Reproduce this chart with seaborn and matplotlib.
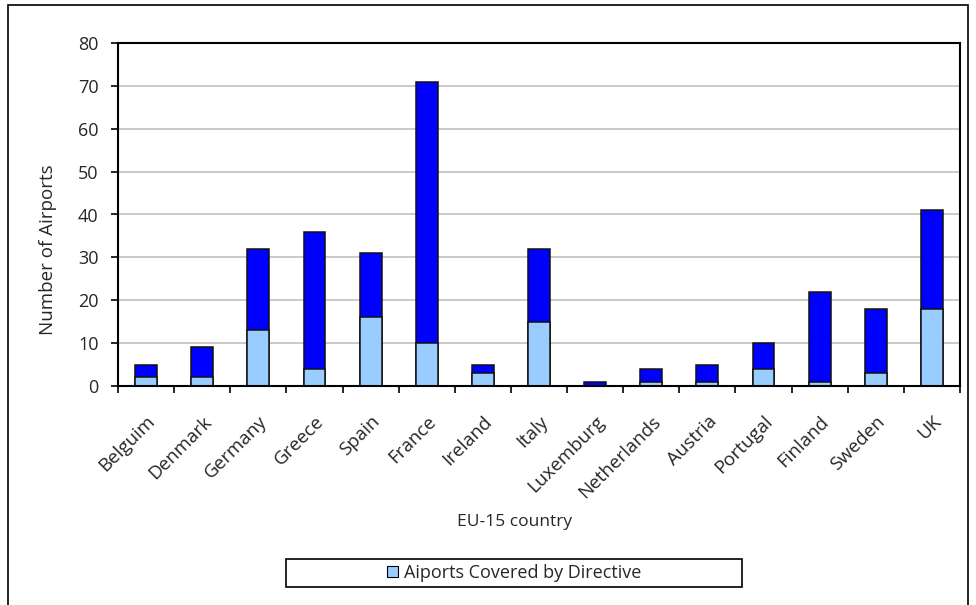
import matplotlib
matplotlib.use("Agg")
import matplotlib.pyplot as plt
from matplotlib.patches import Rectangle, Patch
import seaborn as sns
import pandas as pd

countries = ["Belguim", "Denmark", "Germany", "Greece", "Spain", "France", "Ireland",
             "Italy", "Luxemburg", "Netherlands", "Austria", "Portugal", "Finland",
             "Sweden", "UK"]
covered = [2, 2, 13, 4, 16, 10, 3, 15, 0, 1, 1, 4, 1, 3, 18]
total = [5, 9, 32, 36, 31, 71, 5, 32, 1, 4, 5, 10, 22, 18, 41]
legend_label = "Aiports Covered by Directive"

LIGHT = "#99CCFF"
DARK = "#0000FF"

sns.set_theme(style="white")
plt.rcParams["font.family"] = ["Open Sans", "DejaVu Sans"]

df = pd.DataFrame({"country": countries, "covered": covered, "total": total})

fig = plt.figure(figsize=(9.76, 6.05), dpi=100)
ax = fig.add_axes([118 / 976, 1 - 386 / 605, (960 - 118) / 976, (386 - 43) / 605])

# full height in dark blue, covered part stacked at the bottom in light blue
sns.barplot(data=df, x="country", y="total", order=countries, color=DARK,
            saturation=1, width=0.39, edgecolor="#111111", linewidth=1.1, ax=ax)
sns.barplot(data=df, x="country", y="covered", order=countries, color=LIGHT,
            saturation=1, width=0.39, edgecolor="#111111", linewidth=1.1, ax=ax)

ax.set_xlim(-0.5, len(countries) - 0.5)
ax.set_ylim(0, 80)
ax.set_yticks(range(0, 81, 10))
ax.yaxis.grid(True, color="#c0c0c0", linewidth=1.2)
ax.set_axisbelow(True)

# ticks sit between categories; labels at the category centres
ax.set_xticks([i - 0.5 for i in range(len(countries) + 1)])
ax.set_xticklabels([])
ax.set_xticks(range(len(countries)), minor=True)
ax.set_xticklabels(countries, minor=True, rotation=45, ha="right",
                   rotation_mode="anchor", fontsize=13.5)
ax.tick_params(axis="x", which="major", direction="out", length=5, width=1.2,
               color="black", bottom=True)
ax.tick_params(axis="x", which="minor", length=0, pad=19)
ax.tick_params(axis="y", direction="out", length=5, width=1.2, color="black",
               left=True, pad=9, labelsize=13)

for side in ["left", "bottom", "top", "right"]:
    ax.spines[side].set_visible(True)
    ax.spines[side].set_color("black")
    ax.spines[side].set_linewidth(1.5)

ax.set_xlabel("")
ax.set_ylabel("")
fig.text(48 / 976, 1 - 250 / 605, "Number of Airports", rotation=90,
         ha="center", va="center", fontsize=13.5)
fig.text(515 / 976, 1 - 522 / 605, "EU-15 country", ha="center", va="center",
         fontsize=12.5)

# legend box
fig.patches.append(Rectangle((286 / 976, 1 - 587 / 605), 456 / 976, 28 / 605,
                             transform=fig.transFigure, facecolor="white",
                             edgecolor="black", linewidth=1.2))
handle = Patch(facecolor=LIGHT, edgecolor="black", linewidth=0.8)
fig.legend([handle], [legend_label], loc="center",
           bbox_to_anchor=(514 / 976, 1 - 573 / 605), frameon=False,
           fontsize=13, handlelength=0.6, handleheight=0.6, handletextpad=0.35)

# outer chart border
fig.patches.append(Rectangle((8 / 976, -0.05), 960 / 976, 1.05 - 5 / 605,
                             transform=fig.transFigure, fill=False,
                             edgecolor="black", linewidth=1.2))

fig.savefig("out.png", dpi=100)
